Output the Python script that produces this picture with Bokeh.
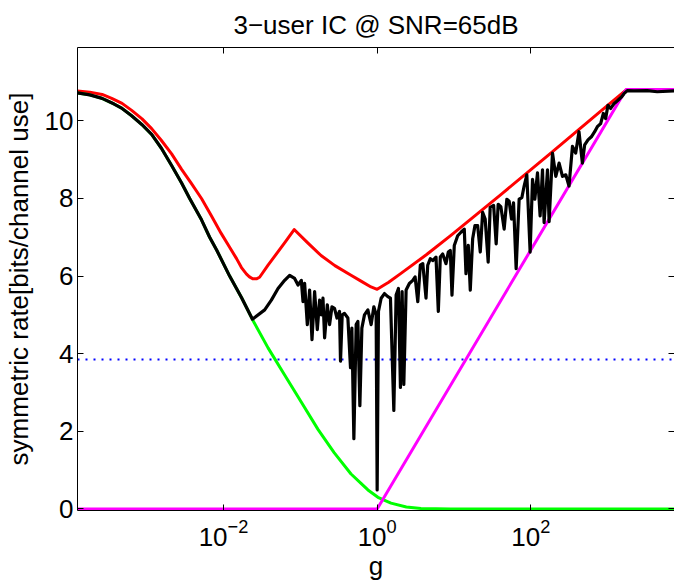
from bokeh.plotting import figure
from bokeh.models import Range1d, FixedTicker, LinearAxis, LogAxis
from bokeh.embed import file_html
from bokeh.resources import INLINE

# ---- data (x given as log10(g)) ----
red_log10_g = [-3.9, -3.74, -3.58, -3.455, -3.32, -3.195, -3.06, -2.935, -2.81, -2.675,
               -2.545, -2.416, -2.286, -2.156, -2.03, -1.922, -1.83, -1.766, -1.70, -1.662,
               -1.62, -1.571, -1.53, -1.42, -1.20, -1.08, -0.90, -0.73, -0.55, -0.34,
               -0.21, -0.08, 0.0, 0.15, 0.31, 0.64, 0.96, 1.61, 2.26, 2.91, 3.25, 3.9]
red_rate = [10.77, 10.74, 10.68, 10.58, 10.45, 10.27, 10.05, 9.8, 9.5, 9.15,
            8.75, 8.38, 8.0, 7.55, 7.1, 6.75, 6.45, 6.22, 6.05, 5.98,
            5.93, 5.93, 5.97, 6.28, 6.87, 7.2, 6.85, 6.53, 6.27, 6.02,
            5.87, 5.72, 5.66, 5.84, 6.07, 6.55, 7.05, 8.1, 9.17, 10.25, 10.81, 10.81]

green_log10_g = [-3.9, -3.74, -3.58, -3.429, -3.32, -3.195, -3.06, -2.935, -2.81, -2.675,
                 -2.545, -2.44, -2.286, -2.18, -2.091, -1.92, -1.766, -1.62, -1.42, -1.21,
                 -0.99, -0.77, -0.56, -0.34, -0.21, -0.12, 0.01, 0.18, 0.38, 0.57, 0.96, 3.9]
green_rate = [10.72, 10.67, 10.58, 10.44, 10.32, 10.13, 9.9, 9.65, 9.3, 8.85,
              8.4, 8.0, 7.45, 7.0, 6.68, 6.0, 5.45, 4.87, 4.15, 3.47,
              2.76, 2.05, 1.45, 0.9, 0.66, 0.49, 0.3, 0.15, 0.05, 0.01, 0.0, 0.0]

magenta_log10_g = [-3.9, 0.0, 3.24, 3.9]
magenta_rate = [0.0, 0.0, 10.81, 10.81]

blue_level = 3.85

black_log10_g = [-3.9, -3.74, -3.58, -3.429, -3.32, -3.195, -3.06, -2.935, -2.81, -2.675,
                 -2.545, -2.44, -2.286, -2.18, -2.091, -1.92, -1.766, -1.623,
                 -1.464, -1.377, -1.290, -1.204, -1.139, -1.074, -1.030, -0.987, -0.965, -0.944,
                 -0.909, -0.879, -0.848, -0.814, -0.779, -0.749, -0.727, -0.705, -0.684, -0.649,
                 -0.619, -0.588, -0.555, -0.523, -0.490, -0.477, -0.455, -0.425, -0.381, -0.347,
                 -0.329, -0.303, -0.273, -0.251, -0.225, -0.199, -0.165, -0.121, -0.078, -0.043,
                 -0.013, 0.0, 0.017, 0.052, 0.095, 0.139, 0.173, 0.217, 0.247, 0.277,
                 0.303, 0.325, 0.347, 0.377, 0.419, 0.464, 0.494, 0.529, 0.562, 0.594,
                 0.636, 0.658, 0.692, 0.723, 0.766, 0.796, 0.822, 0.853, 0.896, 0.926,
                 0.952, 0.974, 1.004, 1.048, 1.091, 1.134, 1.156, 1.186, 1.212, 1.243,
                 1.273, 1.308, 1.342, 1.373, 1.406, 1.445, 1.471, 1.516, 1.549, 1.575,
                 1.610, 1.653, 1.688, 1.718, 1.749, 1.775, 1.809, 1.848, 1.883, 1.913,
                 1.948, 1.991, 2.022, 2.052, 2.087, 2.121, 2.152, 2.173, 2.217, 2.238,
                 2.282, 2.325, 2.368, 2.412, 2.455, 2.497, 2.542, 2.584, 2.627, 2.671,
                 2.701, 2.744, 2.788, 2.831, 2.866, 2.909, 2.944, 2.974, 3.004, 3.039,
                 3.082, 3.134, 3.178, 3.212, 3.256, 3.342, 3.516, 3.645, 3.861, 3.9]
black_rate = [10.72, 10.67, 10.58, 10.44, 10.32, 10.13, 9.9, 9.65, 9.3, 8.85,
              8.4, 8.0, 7.45, 7.0, 6.68, 6.0, 5.45, 4.89,
              5.13, 5.38, 5.68, 5.89, 6.02, 5.94, 5.77, 5.89, 5.34, 5.81,
              4.75, 5.64, 4.36, 5.6, 4.62, 5.38, 5.0, 5.43, 4.41, 5.26,
              4.75, 5.21, 5.17, 4.92, 5.09, 3.81, 5.0, 5.04, 4.92, 3.64,
              4.66, 1.81, 4.75, 4.83, 2.66, 4.66, 5.0, 5.13, 4.75, 5.21,
              5.0, 0.49, 5.09, 5.43, 5.55, 5.47, 5.43, 2.54, 5.51, 5.68,
              3.13, 5.6, 3.21, 5.64, 5.81, 5.89, 5.98, 5.34, 6.28, 6.32,
              5.43, 6.28, 6.45, 6.4, 6.49, 5.09, 6.49, 6.57, 6.32, 6.62,
              6.66, 5.51, 6.79, 7.04, 7.13, 7.21, 6.06, 6.79, 5.64, 6.96,
              7.3, 7.3, 6.62, 7.64, 7.47, 6.36, 7.77, 7.82, 6.83, 7.85,
              7.79, 7.21, 7.98, 7.93, 7.47, 7.89, 6.19, 7.98, 8.02, 8.32,
              8.61, 6.62, 8.49, 7.98, 8.66, 7.55, 8.74, 7.38, 8.74, 7.4,
              9.17, 8.57, 8.91, 8.57, 8.61, 8.32, 9.34, 9.17, 9.72, 8.91,
              9.38, 9.51, 9.59, 9.72, 9.85, 9.93, 10.19, 10.06, 10.4, 10.32,
              10.44, 10.53, 10.61, 10.7, 10.78, 10.77, 10.78, 10.75, 10.77, 10.77]

x_ticks = [1e-2, 1e0, 1e2]
y_ticks = [0, 2, 4, 6, 8, 10]
title_text = "3\u2212user IC @ SNR=65dB"
x_label = "g"
y_label = "symmetric rate[bits/channel use]"

FONT = "Liberation Sans"
FS = "26px"


def g(vals):
    return [10 ** v for v in vals]


p = figure(width=674, height=583, x_axis_type="log", title=title_text,
           x_range=Range1d(10 ** -3.9, 10 ** 3.87), y_range=Range1d(-0.04, 11.89),
           output_backend="svg", toolbar_location=None,
           min_border_left=76, min_border_right=0, min_border_top=47, min_border_bottom=70)
p.outline_line_color = None
p.grid.visible = False
p.background_fill_color = "white"
p.border_fill_color = "white"

p.title.align = "center"
p.title.vertical_align = "top"
p.title.text_font = FONT
p.title.text_font_size = FS
p.title.text_font_style = "normal"
p.title.text_color = "black"
p.title.standoff = 12

for ax in (p.xaxis[0], p.yaxis[0]):
    ax.axis_line_color = "black"
    ax.major_tick_line_color = "black"
    ax.major_tick_in = 6
    ax.major_tick_out = 0
    ax.minor_tick_line_color = None
    ax.major_label_text_font = FONT
    ax.major_label_text_font_size = FS
    ax.major_label_text_color = "black"
    ax.axis_label_text_font = FONT
    ax.axis_label_text_font_size = FS
    ax.axis_label_text_font_style = "normal"
    ax.axis_label_text_color = "black"

p.xaxis.ticker = FixedTicker(ticks=x_ticks)
p.yaxis.ticker = FixedTicker(ticks=y_ticks)
p.xaxis.axis_label = x_label
p.yaxis.axis_label = y_label
p.xaxis.major_label_standoff = 8
p.yaxis.major_label_standoff = 4
p.xaxis.axis_label_standoff = 2
p.yaxis.axis_label_standoff = 8

top_axis = LogAxis(ticker=FixedTicker(ticks=x_ticks), major_label_text_font_size="1px",
                   major_label_text_alpha=0, major_label_standoff=0,
                   major_tick_in=6, major_tick_out=0,
                   minor_tick_line_color=None, axis_line_color="black",
                   major_tick_line_color="black")
p.add_layout(top_axis, "above")
right_axis = LinearAxis(ticker=FixedTicker(ticks=y_ticks), major_label_text_font_size="1px",
                        major_label_text_alpha=0, major_label_standoff=0,
                        major_tick_in=6, major_tick_out=0,
                        minor_tick_line_color=None, axis_line_color=None,
                        major_tick_line_color="black")
p.add_layout(right_axis, "right")

p.line(g([-3.9, 3.9]), [blue_level, blue_level], line_color="blue", line_width=2,
       line_dash="2 6")
p.line(g(red_log10_g), red_rate, line_color="red", line_width=3, line_join="round")
p.line(g(green_log10_g), green_rate, line_color="lime", line_width=3, line_join="round")
p.line(g(magenta_log10_g), magenta_rate, line_color="magenta", line_width=3)
p.line(g(black_log10_g), black_rate, line_color="black", line_width=3.2, line_join="round")

open("out.html", "w").write(file_html(p, INLINE))
